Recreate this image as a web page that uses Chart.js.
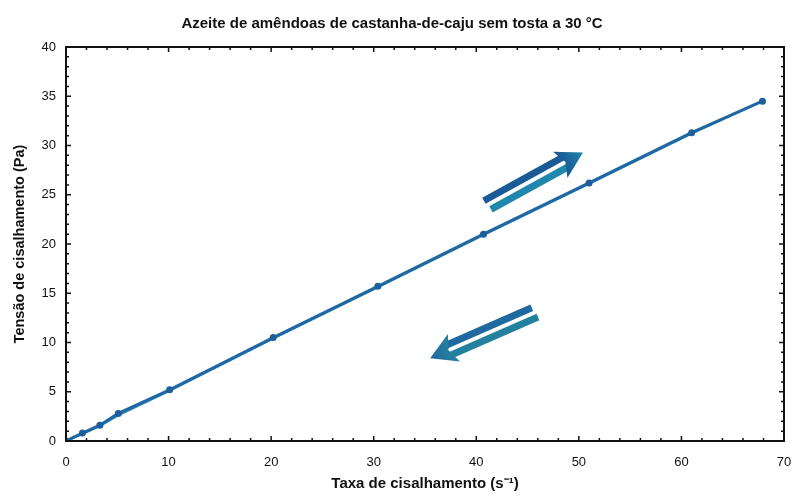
<!DOCTYPE html>
<html>
<head>
<meta charset="utf-8">
<script src="https://cdn.jsdelivr.net/npm/chart.js@4.4.1/dist/chart.umd.min.js"></script>
<style>
  html, body { margin: 0; padding: 0; background: #fff; }
  #wrap { width: 792px; height: 501px; }
</style>
</head>
<body>
<div id="wrap"><canvas id="chart" width="792" height="501"></canvas></div>
<script>
const shearRate   = [0, 1.6, 3.3, 5.1, 10.1, 20.2, 30.4, 40.7, 51.0, 61.0, 67.9]
const stressUp    = [0, 0.8, 1.6, 2.8, 5.2, 10.5, 15.7, 21.0, 26.2, 31.3, 34.5]
const stressDown  = [0, 0.7, 1.5, 2.6, 5.1, 10.4, 15.6, 20.9, 26.1, 31.2, 34.5]

const xTicks = [0, 10, 20, 30, 40, 50, 60, 70]
const yTicks = [0, 5, 10, 15, 20, 25, 30, 35, 40]

// direction arrows, [tailX, tailY, tipX, tipY] in data units
const arrowUp   = [41.0, 23.9, 50.4, 29.3]
const arrowDown = [45.8, 13.1, 35.5, 8.4]

const FONT = "'Liberation Sans', Arial, sans-serif"

const frameTicks = {
  id: 'frameTicks',
  afterDatasetsDraw(chart) {
    const { ctx, chartArea: a, scales: { x, y } } = chart
    ctx.save()
    ctx.strokeStyle = '#111'
    ctx.lineWidth = 1.5
    for (let v = 0; v <= 70; v += 2) {
      const px = x.getPixelForValue(v)
      const len = v % 10 === 0 ? 5 : 3
      ctx.beginPath()
      ctx.moveTo(px, a.bottom); ctx.lineTo(px, a.bottom - len)
      ctx.moveTo(px, a.top);    ctx.lineTo(px, a.top + len)
      ctx.stroke()
    }
    for (let v = 0; v <= 40; v += 1) {
      const py = y.getPixelForValue(v)
      const len = v % 5 === 0 ? 5 : 3
      ctx.beginPath()
      ctx.moveTo(a.left, py);  ctx.lineTo(a.left + len, py)
      ctx.moveTo(a.right, py); ctx.lineTo(a.right - len, py)
      ctx.stroke()
    }
    ctx.lineWidth = 2
    ctx.strokeRect(a.left, a.top, a.right - a.left, a.bottom - a.top)
    ctx.restore()
  }
}

function drawArrow(ctx, x, y, arr, c1, c2) {
  const x0 = x.getPixelForValue(arr[0]), y0 = y.getPixelForValue(arr[1])
  const x1 = x.getPixelForValue(arr[2]), y1 = y.getPixelForValue(arr[3])
  const ang = Math.atan2(y1 - y0, x1 - x0)
  const len = Math.hypot(x1 - x0, y1 - y0)
  ctx.save()
  ctx.translate(x0, y0)
  ctx.rotate(ang)
  const shaftEnd = len - 18
  ctx.fillStyle = c1
  ctx.fillRect(0, -9, shaftEnd, 7)
  ctx.fillStyle = c2
  ctx.fillRect(2, 2, shaftEnd - 2, 7)
  const g = ctx.createLinearGradient(shaftEnd - 4, 0, len, 0)
  g.addColorStop(0, c1); g.addColorStop(1, c2)
  ctx.fillStyle = g
  ctx.beginPath()
  ctx.moveTo(len, 0)
  ctx.lineTo(shaftEnd - 8, -15)
  ctx.lineTo(shaftEnd - 2, 0)
  ctx.lineTo(shaftEnd - 8, 15)
  ctx.closePath()
  ctx.fill()
  ctx.restore()
}

const arrows = {
  id: 'arrows',
  afterDatasetsDraw(chart) {
    const { ctx, scales: { x, y } } = chart
    drawArrow(ctx, x, y, arrowUp, '#1a5b97', '#1e87ad')
    drawArrow(ctx, x, y, arrowDown, '#24809f', '#1f68a0')
  }
}

new Chart(document.getElementById('chart'), {
  type: 'line',
  data: {
    datasets: [
      {
        label: 'ida',
        data: shearRate.map((v, i) => ({ x: v, y: stressUp[i] })),
        borderColor: '#1f68a4',
        backgroundColor: '#1d5f9c',
        borderWidth: 3,
        pointRadius: 3.5,
        pointBorderWidth: 0,
        tension: 0,
      },
      {
        label: 'volta',
        data: shearRate.map((v, i) => ({ x: v, y: stressDown[i] })),
        borderColor: '#2a86b6',
        backgroundColor: '#2a86b6',
        borderWidth: 2,
        pointRadius: 0,
        tension: 0,
      }
    ]
  },
  options: {
    responsive: false,
    animation: false,
    layout: { padding: { left: 0, right: 8, top: 0, bottom: 0 } },
    scales: {
      x: {
        type: 'linear',
        min: 0, max: 70,
        afterFit: s => { s.height = 60; s.paddingLeft = 0; s.paddingRight = 0 },
        afterBuildTicks: s => { s.ticks = xTicks.map(v => ({ value: v })) },
        grid: { display: false, drawTicks: false },
        border: { display: false },
        ticks: { color: '#111', font: { family: FONT, size: 13 }, padding: 14, maxRotation: 0 },
        title: {
          display: true,
          text: 'Taxa de cisalhamento (s⁻¹)',
          color: '#111',
          font: { family: FONT, size: 15, weight: 'bold' },
          padding: { top: 0, bottom: 8 }
        }
      },
      y: {
        min: 0, max: 40,
        afterFit: s => { s.width = 66; s.paddingTop = 0; s.paddingBottom = 0 },
        afterBuildTicks: s => { s.ticks = yTicks.map(v => ({ value: v })) },
        grid: { display: false, drawTicks: false },
        border: { display: false },
        ticks: { color: '#111', font: { family: FONT, size: 13 }, padding: 10 },
        title: {
          display: true,
          text: 'Tensão de cisalhamento (Pa)',
          color: '#111',
          font: { family: FONT, size: 14.5, weight: 'bold' },
          padding: { top: 11, bottom: 0 }
        }
      }
    },
    plugins: {
      legend: { display: false },
      tooltip: { enabled: false },
      title: {
        display: true,
        text: 'Azeite de amêndoas de castanha-de-caju sem tosta a 30 °C',
        color: '#111',
        font: { family: FONT, size: 15, weight: 'bold' },
        padding: { top: 15, bottom: 14 }
      }
    }
  },
  plugins: [frameTicks, arrows]
})
</script>
</body>
</html>
